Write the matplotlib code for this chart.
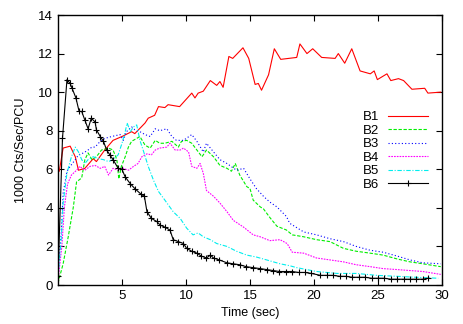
import matplotlib
matplotlib.use("Agg")
import matplotlib.pyplot as plt

plt.rcParams['font.family'] = ['Liberation Sans', 'DejaVu Sans']
plt.rcParams['font.size'] = 9

# B1
red_t = [0.1, 0.4, 0.95, 1.35, 1.6, 2.1, 2.75, 3.0, 3.65, 4.3, 5.0, 5.75, 6.0, 6.8, 7.05, 7.55, 7.85,
         8.35, 8.6, 9.5, 10.45, 10.7, 10.95, 11.35, 11.9, 12.4, 12.65, 12.9, 13.35, 13.65, 14.45, 14.9,
         15.4, 15.65, 15.9, 16.45, 16.9, 17.4, 18.65, 18.9, 19.45, 19.9, 20.6, 21.65, 21.9, 22.4, 22.95,
         23.6, 24.4, 24.7, 24.95, 25.7, 26.0, 26.6, 27.0, 27.65, 28.65, 28.9, 29.9]
red_y = [5.9, 7.1, 7.2, 6.65, 5.95, 6.05, 6.55, 6.4, 7.0, 7.5, 7.7, 7.95, 7.85, 8.4, 8.65, 8.8, 9.25,
         9.2, 9.35, 9.25, 9.95, 9.7, 9.95, 10.05, 10.6, 10.35, 10.55, 10.25, 11.85, 11.75, 12.3, 11.75,
         10.4, 10.45, 10.1, 10.9, 12.25, 11.7, 11.8, 12.5, 12.0, 12.25, 11.8, 11.75, 12.0, 11.5, 12.25,
         11.1, 10.95, 11.1, 10.65, 10.95, 10.6, 10.7, 10.6, 10.15, 10.2, 9.95, 10.0]

# B2
green_t = [0, 0.4, 0.8, 1.2, 1.45, 1.85, 2.1, 2.35, 2.65, 3.0, 3.4, 3.95, 4.3, 4.6, 4.75, 4.95, 5.25,
           5.5, 5.75, 6.15, 6.4, 6.8, 7.2, 7.6, 7.95, 8.35, 8.9, 9.4, 9.65, 10.05, 10.45, 10.85, 11.25,
           11.6, 12.15, 12.65, 13.2, 13.55, 13.85, 14.2, 14.75, 15.0, 15.25, 15.8, 16.05, 16.55, 17.1,
           17.85, 18.3, 19.2, 20.2, 21.25, 22.3, 23.3, 24.4, 25.4, 26.5, 27.5, 28.5, 29.9]
green_y = [0.1, 1.1, 2.5, 4.05, 5.35, 5.55, 6.5, 6.85, 6.5, 6.65, 7.0, 7.1, 7.0, 6.5, 5.5, 6.15, 6.65,
           7.15, 7.45, 7.6, 7.7, 7.25, 7.1, 7.5, 7.35, 7.35, 7.45, 7.15, 7.45, 7.5, 7.35, 7.0, 6.65,
           7.0, 6.65, 6.2, 6.05, 5.9, 6.3, 5.7, 5.1, 5.0, 4.4, 4.05, 3.95, 3.5, 3.05,
           2.85, 2.6, 2.5, 2.35, 2.25, 1.9, 1.75, 1.65, 1.55, 1.35, 1.2, 1.1, 0.95]

# B3
blue_t = [0, 0.25, 0.4, 0.7, 0.95, 1.35, 1.6, 2.0, 2.35, 2.65, 2.9, 3.3, 3.65, 4.2, 4.85, 5.1, 5.35,
          5.75, 6.0, 6.4, 6.8, 7.2, 7.6, 7.95, 8.5, 8.9, 9.25, 9.8, 10.45, 10.85, 11.35, 11.6, 12.15,
          12.65, 13.2, 13.95, 14.5, 15.0, 15.5, 16.05, 16.55, 17.1, 17.85, 18.1, 19.2, 20.2, 21.25,
          22.3, 23.3, 24.4, 25.4, 26.5, 27.5, 28.5, 29.9]
blue_y = [0.6, 2.7, 4.75, 5.9, 6.15, 6.5, 6.75, 6.85, 7.0, 7.15, 7.15, 7.45, 7.6, 7.7, 7.8, 7.5, 7.95,
          8.2, 8.05, 7.95, 7.8, 7.7, 8.1, 8.0, 8.1, 7.7, 7.5, 7.5, 7.8, 7.45, 6.9, 7.35, 6.9,
          6.5, 6.3, 5.95, 6.05, 5.5, 5.0, 4.6, 4.3, 4.05, 3.55, 3.2, 2.75, 2.6, 2.4,
          2.25, 2.0, 1.8, 1.7, 1.5, 1.3, 1.15, 1.1]

# B4
mag_t = [0, 0.3, 0.5, 0.75, 1.05, 1.45, 1.7, 2.1, 2.5, 2.9, 3.3, 3.65, 3.95, 4.3, 4.7, 5.1, 5.5, 5.9,
         6.25, 6.55, 6.95, 7.3, 7.6, 7.95, 8.5, 8.75, 9.15, 9.55, 9.8, 10.2, 10.45, 10.85, 11.1, 11.35,
         11.6, 12.15, 12.65, 13.2, 13.7, 14.5, 15.25, 15.8, 16.55, 17.35, 17.9, 18.3, 19.2, 20.2,
         21.25, 22.3, 23.3, 24.4, 25.4, 26.5, 27.5, 28.5, 29.9]
mag_y = [0.25, 2.0, 4.05, 5.25, 5.7, 5.95, 6.15, 5.95, 6.15, 6.2, 6.05, 6.15, 5.7, 6.05, 5.95, 6.05,
         5.95, 6.15, 6.3, 6.65, 6.8, 6.75, 7.0, 7.1, 7.15, 7.35, 7.0, 7.0, 7.1, 6.9, 6.15, 6.05, 6.3,
         5.8, 4.9, 4.6, 4.25, 3.8, 3.35, 3.0, 2.6, 2.5, 2.3, 2.35, 2.15, 1.7, 1.65, 1.4,
         1.3, 1.2, 1.05, 0.95, 0.85, 0.8, 0.75, 0.7, 0.55]

# B5
cyan_t = [0, 0.25, 0.4, 0.7, 1.05, 1.35, 1.6, 1.85, 2.1, 2.35, 2.75, 3.15, 3.55, 3.95, 4.3, 4.7, 5.0,
          5.25, 5.4, 5.65, 5.9, 6.15, 6.4, 6.65, 7.05, 7.45, 7.85, 8.35, 9.0, 9.55, 10.05, 10.55,
          10.95, 11.35, 11.9, 12.4, 13.2, 13.95, 14.75, 15.5, 16.3, 17.35, 18.1, 18.65, 20.2, 21.8,
          23.3, 24.9, 26.5, 28.0, 29.7]
cyan_y = [0.45, 2.35, 4.25, 5.8, 6.65, 7.15, 6.9, 6.5, 6.3, 6.5, 6.65, 6.55, 6.5, 6.4, 6.5, 6.75,
          7.35, 7.95, 8.4, 7.95, 8.2, 8.3, 7.5, 7.0, 6.15, 5.45, 4.85, 4.4, 3.8, 3.45, 2.95, 2.6,
          2.7, 2.5, 2.35, 2.15, 2.0, 1.75, 1.55, 1.45, 1.3, 1.1, 1.0, 0.9, 0.7, 0.6,
          0.6, 0.5, 0.45, 0.4, 0.35]

# B6
black_t = [0, 0.35, 0.7, 0.95, 1.1, 1.4, 1.65, 1.85, 2.1, 2.35, 2.6, 2.9, 3.0, 3.3, 3.55, 3.8, 4.05,
           4.3, 4.7, 5.0, 5.25, 5.65, 6.0, 6.5, 6.75, 6.95, 7.3, 7.7, 8.0, 8.35, 8.75, 9.0, 9.4, 9.8,
           10.05, 10.45, 10.85, 11.2, 11.6, 11.9, 12.15, 12.6, 13.2, 13.7, 14.2, 14.7, 15.25, 15.8,
           16.3, 16.8, 17.3, 17.8, 18.3, 18.8, 19.3, 19.8, 20.5, 21.0, 21.5, 22.0, 22.5, 23.0, 23.5,
           24.0, 24.5, 25.0, 25.5, 26.0, 26.5, 27.0, 27.5, 28.0, 28.5, 28.9]
black_y = [0.45, 7.6, 10.65, 10.45, 10.2, 9.7, 9.0, 9.0, 8.55, 8.1, 8.65, 8.45, 8.05, 7.7, 7.45, 7.0,
           6.75, 6.5, 6.05, 6.0, 5.6, 5.25, 5.0, 4.7, 4.6, 3.8, 3.45, 3.3, 3.1, 3.0, 2.85, 2.35, 2.25,
           2.15, 1.9, 1.75, 1.65, 1.5, 1.4, 1.55, 1.4, 1.3, 1.15, 1.1, 1.05, 0.95, 0.9, 0.85,
           0.8, 0.75, 0.7, 0.7, 0.7, 0.65, 0.65, 0.6, 0.5, 0.5, 0.5, 0.45, 0.45, 0.4, 0.4,
           0.4, 0.35, 0.35, 0.35, 0.3, 0.3, 0.3, 0.3, 0.3, 0.3, 0.35]

x_ticks = [5, 10, 15, 20, 25, 30]
y_ticks = [0, 2, 4, 6, 8, 10, 12, 14]

fig = plt.figure(figsize=(4.63, 3.24), dpi=100)
ax = fig.add_axes([58 / 463, 1 - 285 / 324, 384 / 463, 270 / 324])

lw = 0.8
ax.plot(red_t, red_y, color='#ff0000', lw=lw, label='B1')
ax.plot(green_t, green_y, color='#00ee00', lw=lw, ls=(0, (3, 1.5)), label='B2')
ax.plot(blue_t, blue_y, color='#0000ff', lw=lw, ls=(0, (1, 2)), label='B3')
ax.plot(mag_t, mag_y, color='#ff00ff', lw=lw, ls=(0, (1.5, 1)), label='B4')
ax.plot(cyan_t, cyan_y, color='#00eeee', lw=lw, ls=(0, (4, 1.5, 1, 1.5)), label='B5')
ax.plot(black_t, black_y, color='black', lw=lw, marker='+', ms=5, mew=0.8, label='B6')

ax.set_xlim(0, 30)
ax.set_ylim(0, 14)
ax.set_xticks(x_ticks)
ax.set_yticks(y_ticks)
ax.tick_params(direction='in', length=4, width=0.8, top=True, right=True, labelsize=9.5)
for s in ax.spines.values():
    s.set_linewidth(1)
ax.set_xlabel('Time (sec)', fontsize=9, labelpad=4)
ax.set_ylabel('1000 Cts/Sec/PCU', fontsize=9, labelpad=8)

ax.legend(loc='upper right', bbox_to_anchor=(428 / 463, 1 - 111 / 324), bbox_transform=fig.transFigure,
          frameon=False, markerfirst=False, handlelength=3.0, handletextpad=0.7,
          labelspacing=0.1, borderpad=0, borderaxespad=0, fontsize=9.5, numpoints=1)

fig.savefig('out.png', dpi=100)
